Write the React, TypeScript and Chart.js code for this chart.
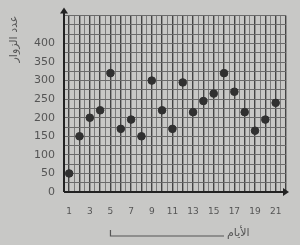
import React, { useEffect, useRef } from "react";
import { Chart, registerables } from "chart.js";

Chart.register(...registerables);

const days = [1, 2, 3, 4, 5, 6, 7, 8, 9, 10, 11, 12, 13, 14, 15, 16, 17, 18, 19, 20, 21];
const visitors = [50, 150, 200, 220, 320, 170, 195, 150, 300, 220, 170, 295, 215, 245, 265, 320, 270, 215, 165, 195, 240];
const yTickLabels = [0, 50, 100, 150, 200, 250, 300, 350, 400];
const xTickLabels = [1, 3, 5, 7, 9, 11, 13, 15, 17, 19, 21];
const yTitle = "عدد الزوار";
const xTitle = "الأيام";

const BG = "#c8c8c6";

const decor = {
  id: "decor",
  beforeDraw(chart: any) {
    const ctx = chart.ctx;
    ctx.save();
    ctx.fillStyle = BG;
    ctx.fillRect(0, 0, chart.width, chart.height);
    ctx.restore();
  },
  afterDraw(chart: any) {
    const ctx = chart.ctx;
    const ca = chart.chartArea;
    const xs = chart.scales.x;
    ctx.save();
    ctx.strokeStyle = "#222";
    ctx.fillStyle = "#222";
    ctx.lineWidth = 2;
    ctx.beginPath();
    ctx.moveTo(ca.left, ca.bottom);
    ctx.lineTo(ca.left, ca.top - 4);
    ctx.moveTo(ca.left, ca.bottom);
    ctx.lineTo(ca.right, ca.bottom);
    ctx.stroke();
    // arrows
    ctx.beginPath();
    ctx.moveTo(ca.left, ca.top - 8);
    ctx.lineTo(ca.left - 4, ca.top - 2);
    ctx.lineTo(ca.left + 4, ca.top - 2);
    ctx.closePath();
    ctx.fill();
    ctx.beginPath();
    ctx.moveTo(ca.right + 3, ca.bottom);
    ctx.lineTo(ca.right - 3, ca.bottom - 4);
    ctx.lineTo(ca.right - 3, ca.bottom + 4);
    ctx.closePath();
    ctx.fill();
    // x title line
    const x0 = xs.getPixelForValue(5);
    const x1 = xs.getPixelForValue(16);
    const yl = 236;
    ctx.strokeStyle = "#555";
    ctx.lineWidth = 1.2;
    ctx.beginPath();
    ctx.moveTo(x0, yl - 6);
    ctx.lineTo(x0, yl);
    ctx.lineTo(x1, yl);
    ctx.stroke();
    ctx.fillStyle = "#555";
    ctx.font = "11px 'DejaVu Sans'";
    ctx.textAlign = "left";
    ctx.textBaseline = "middle";
    ctx.fillText(xTitle, x1 + 3, yl - 3);
    ctx.restore();
  },
};

export default function App() {
  const ref = useRef<HTMLCanvasElement>(null);
  useEffect(() => {
    document.body.style.margin = "0";
    const chart = new Chart(ref.current!, {
      type: "scatter",
      data: {
        datasets: [
          {
            data: days.map((d, i) => ({ x: d, y: visitors[i] })),
            backgroundColor: "#303030",
            borderColor: "#303030",
            pointRadius: 3.8,
          },
        ],
      },
      options: {
        animation: false,
        responsive: false,
        layout: { padding: { top: 11, right: 4, left: 0, bottom: 0 } },
        plugins: { legend: { display: false }, tooltip: { enabled: false } },
        scales: {
          x: {
            type: "linear",
            min: 0.5,
            max: 22,
            afterBuildTicks: (s: any) => {
              const t = [];
              for (let v = 0.5; v <= 22.001; v += 0.5) t.push({ value: v });
              s.ticks = t;
            },
            afterFit: (s: any) => {
              s.height = 53;
            },
            grid: {
              drawTicks: false,
              color: (c: any) => (Number.isInteger(c.tick?.value) ? "#444" : "#7a7a7a"),
              lineWidth: (c: any) => (Number.isInteger(c.tick?.value) ? 1.4 : 1),
            },
            border: { display: false },
            ticks: {
              autoSkip: false,
              maxRotation: 0,
              padding: 14,
              color: "#555",
              font: { size: 9, family: "DejaVu Sans" },
              callback: (v: any) => (xTickLabels.includes(Number(v)) ? String(v) : ""),
            },
          },
          y: {
            min: 0,
            max: 475,
            afterBuildTicks: (s: any) => {
              const t = [];
              for (let v = 0; v <= 475; v += 25) t.push({ value: v });
              s.ticks = t;
            },
            afterFit: (s: any) => {
              s.width = 64;
            },
            grid: {
              drawTicks: false,
              color: "#6a6a6a",
              lineWidth: 1,
            },
            border: { display: false },
            ticks: {
              autoSkip: false,
              padding: 9,
              color: "#555",
              font: { size: 11, family: "DejaVu Sans" },
              callback: (v: any) => (yTickLabels.includes(Number(v)) ? String(v) : ""),
            },
            title: {
              display: true,
              text: yTitle,
              align: "end",
              color: "#555",
              font: { size: 11, family: "DejaVu Sans" },
              padding: { top: 8, bottom: 0 },
            },
          },
        },
      },
      plugins: [decor],
    } as any);
    return () => chart.destroy();
  }, []);
  return <canvas ref={ref} width={300} height={245} style={{ display: "block" }} />;
}
